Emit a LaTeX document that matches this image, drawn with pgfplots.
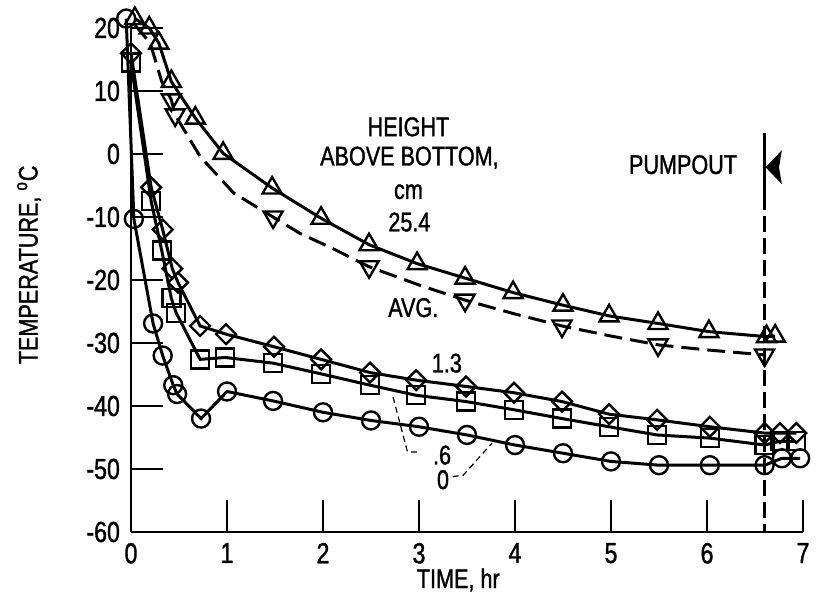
\documentclass[border=0pt]{standalone}
\usepackage{fontspec}
\setmainfont{Liberation Sans}[FakeStretch=0.8, FakeBold=1.2]
\usepackage{pgfplots}
\pgfplotsset{compat=1.18}
\usetikzlibrary{calc}
\newcommand\lf{\fontsize{13.5}{15}\selectfont}
\newcommand\tf{\fontsize{14.5}{16}\selectfont}
\begin{document}
\begin{tikzpicture}
\begin{axis}[
  scale only axis, width=336pt, height=252pt,
  xmin=0, xmax=7, ymin=-60, ymax=20,
  axis x line=bottom, axis y line=left,
  axis line style={-, line width=1.3pt},
  xtick={0,1,2,3,4,5,6,7}, ytick={-60,-50,-40,-30,-20,-10,0,10,20},
  xticklabels={0,1,2,3,4,5,6,7},
  yticklabels={-60,-50,-40,-30,-20,-10,0,10,20},
  tick align=inside, major tick length=16pt,
  tick style={line width=1.1pt, black},
  tick label style={font=\tf},
  yticklabel style={xshift=-2pt},
  xticklabel style={yshift=-2pt},
  clip=false,
  every axis plot/.append style={line width=1.5pt, black},
]
\coordinate (sw) at (rel axis cs:0,0);
\coordinate (ne) at (rel axis cs:1,1);
% 0 cm (circles)
\addplot[mark=o, mark size=4.5pt, mark options={solid, fill=white, line width=1.2pt}] coordinates {
(-0.05,21.5) (0.03,-10.3) (0.23,-26.9) (0.33,-32) (0.44,-36.7) (0.48,-38.1) (0.73,-42) (1.0,-37.7)
(1.48,-39.2) (2.0,-41) (2.5,-42.3) (3.0,-43.3) (3.5,-44.6) (4.0,-46.2) (4.5,-47.5) (5.0,-48.8)
(5.5,-49.4) (6.03,-49.4) (6.6,-49.4) (6.78,-48.3) (6.97,-48.3)};
% 0.6 cm (squares)
\addplot[mark=square, mark size=4.5pt, mark options={solid, fill=white, line width=1.2pt}] coordinates {
(0,14.5) (0.21,-7.5) (0.32,-15.3) (0.42,-22.9) (0.47,-25.2) (0.72,-32.6) (0.98,-32.3) (1.48,-33.2)
(1.98,-34.9) (2.49,-36.7) (2.97,-38.3) (3.49,-39.3) (3.99,-40.6) (4.49,-42) (4.98,-43.3) (5.48,-44.6)
(6.03,-45.1) (6.6,-46.2) (6.76,-45.6) (6.93,-45.6)};
% 1.3 cm (diamonds)
\addplot[mark=square, mark size=3.5pt, mark options={solid, fill=white, line width=1.2pt, rotate=45}] coordinates {
(0,16) (0.21,-5.3) (0.33,-12) (0.43,-18.2) (0.49,-20.4) (0.72,-27.3) (0.99,-28.6) (1.49,-30.6)
(1.98,-32.6) (2.49,-34.7) (2.97,-35.9) (3.49,-36.9) (3.99,-37.9) (4.49,-39.3) (4.98,-41.3) (5.48,-42.2)
(6.03,-43.3) (6.6,-44.3) (6.76,-44.3) (6.93,-44.3)};
% AVG (dashed line)
\addplot[dash pattern=on 9pt off 4pt] coordinates {
(0.04,20.5) (0.2,17.6) (0.32,11.5) (0.42,8.6) (0.46,6.2) (0.72,-0.4) (1.07,-6.2) (1.48,-10)
(1.76,-12.6) (2.1,-15) (2.48,-17.9) (3.0,-20.8) (3.48,-23.2) (4.0,-25.4) (4.49,-27.3) (5.0,-28.9)
(5.49,-30.3) (6.0,-31.1) (6.6,-31.9)};
\addplot[only marks, mark=triangle, mark size=5.5pt, mark options={solid, fill=white, line width=1.2pt, rotate=180}] coordinates {
(0.42,8.6) (0.46,6.2) (1.48,-10) (2.48,-17.9) (3.48,-23.2) (4.49,-27.3) (5.49,-30.3) (6.6,-31.9)};
% 25.4 cm (triangles)
\addplot[mark=triangle, mark size=5.5pt, mark options={solid, fill=white, line width=1.2pt}] coordinates {
(0.04,21.5) (0.19,20) (0.29,17.6) (0.42,11.5) (0.67,5.7) (0.96,0.1) (1.47,-5.4) (1.98,-10.2)
(2.48,-14.4) (2.98,-17.4) (3.48,-19.7) (3.98,-22) (4.5,-24) (4.98,-25.7) (5.49,-26.9) (6.02,-28.2)
(6.62,-29) (6.71,-28.9)};
% pumpout line
\addplot[line width=1.3pt] coordinates {(6.6,3.3) (6.6,-6.3)};
\addplot[line width=1.3pt, dash pattern=on 8pt off 3pt] coordinates {(6.6,-6.3) (6.6,-60)};
\fill (axis cs:6.61,-2.1) -- (axis cs:6.78,0.6) -- (axis cs:6.75,-2.1) -- (axis cs:6.78,-4.8) -- cycle;
% leaders
\draw[line width=0.6pt, dash pattern=on 3pt off 2pt] (axis cs:2.73,-38.6) -- (axis cs:2.88,-47.3) -- (axis cs:3.0,-47.3);
\draw[line width=0.6pt, dash pattern=on 3pt off 2pt] (axis cs:3.35,-51.2) -- (axis cs:3.46,-51) -- (axis cs:3.76,-45.9);
% labels
\node[font=\lf] at (axis cs:2.89,4.3) {HEIGHT};
\node[font=\lf] at (axis cs:2.9,-0.6) {ABOVE BOTTOM,};
\node[font=\lf] at (axis cs:2.89,-6.0) {cm};
\node[font=\lf] at (axis cs:2.9,-10.8) {25.4};
\node[font=\lf] at (axis cs:2.94,-24.4) {AVG.};
\node[font=\lf] at (axis cs:3.29,-33.2) {1.3};
\node[font=\lf, inner sep=0pt] at (axis cs:3.24,-47.8) {.6};
\node[font=\lf, inner sep=0pt] at (axis cs:3.25,-51.7) {0};
\node[font=\lf] at (axis cs:5.75,-1.7) {PUMPOUT};
\end{axis}
\node[font=\lf] at ($(sw)!0.487!(sw-|ne)+(0,-24pt)$) {TIME, hr};
\node[font=\lf, rotate=90] at ($(sw)!0.53!(sw|-ne)+(-51pt,0)$) {TEMPERATURE, \textsuperscript{o}C};
\pgfresetboundingbox
\path[use as bounding box] ($(sw)+(-65.5pt,-36pt)$) rectangle ($(ne)+(8pt,14pt)$);
\end{tikzpicture}
\end{document}
